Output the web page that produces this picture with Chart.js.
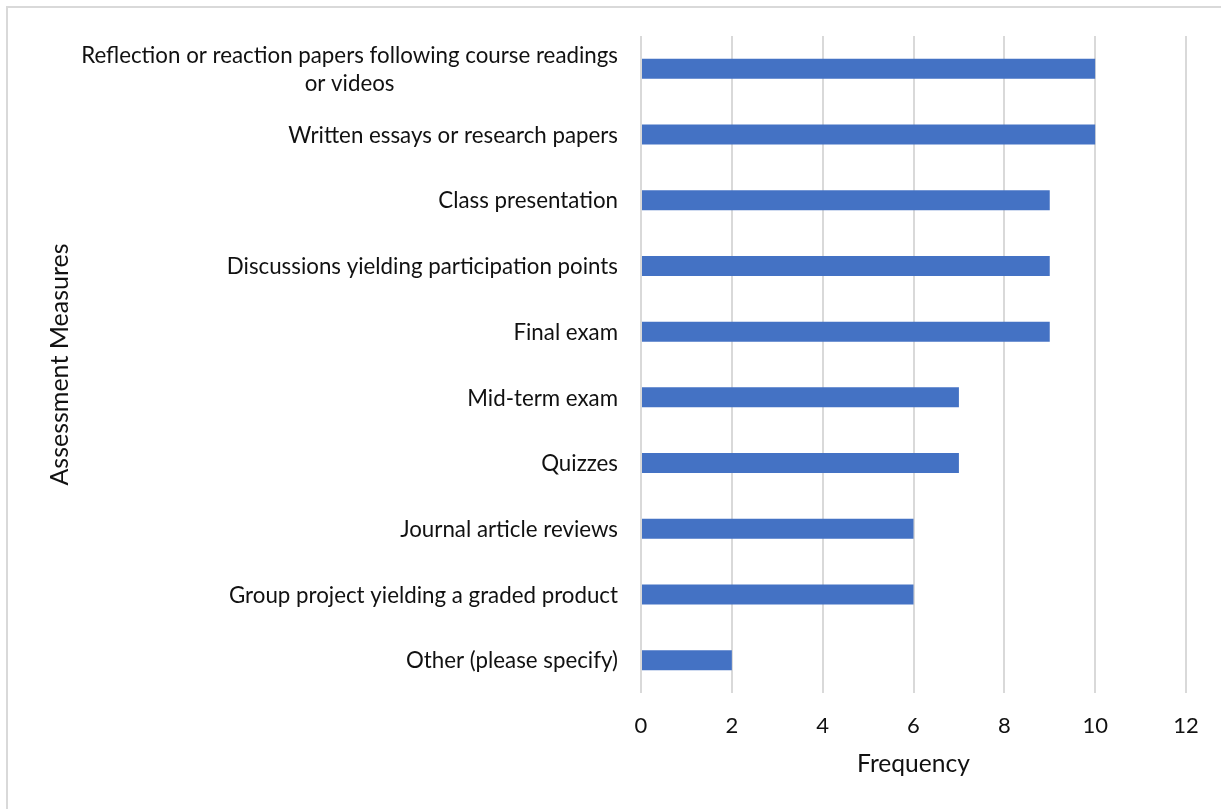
<!DOCTYPE html>
<html>
<head>
<meta charset="utf-8">
<script src="https://cdn.jsdelivr.net/npm/chart.js@4/dist/chart.umd.min.js"></script>
<style>
    html, body { margin: 0; padding: 0; background: #fff; overflow: hidden; }
    #wrap { position: relative; width: 1221px; height: 809px; }
    #frame {
        position: absolute; left: 6px; top: 6px; right: -10px; bottom: -10px;
        border-left: 2px solid #d9d9d9; border-top: 2px solid #d9d9d9;
        pointer-events: none;
    }
</style>
</head>
<body>
<div id="wrap">
    <canvas id="measures-chart" width="1221" height="809"></canvas>
    <div id="frame"></div>
</div>
<script>
// Assessment measures, top to bottom
const measures = [
    ['Reflection or reaction papers following course readings', 'or videos'],
    'Written essays or research papers',
    'Class presentation',
    'Discussions yielding participation points',
    'Final exam',
    'Mid-term exam',
    'Quizzes',
    'Journal article reviews',
    'Group project yielding a graded product',
    'Other (please specify)'
];
const frequency = [10, 10, 9, 9, 9, 7, 7, 6, 6, 2];
const freqTicks = [0, 2, 4, 6, 8, 10, 12];

const FONT = 'Lato';
const TEXT = '#111';

// Category labels: block right-aligned, lines centred inside the block
const categoryLabels = {
    id: 'categoryLabels',
    afterDraw(chart) {
        const ctx = chart.ctx;
        const y = chart.scales.y;
        const xRight = chart.chartArea.left - 23;
        const lineH = 28;
        ctx.save();
        ctx.font = '22.3px ' + FONT;
        ctx.fillStyle = TEXT;
        ctx.textAlign = 'center';
        ctx.textBaseline = 'middle';
        measures.forEach((label, i) => {
            const lines = Array.isArray(label) ? label : [label];
            const w = Math.max(...lines.map(l => ctx.measureText(l).width));
            const cy = y.getPixelForValue(i);
            const y0 = cy - (lines.length - 1) * lineH / 2 + 1;
            lines.forEach((l, k) => ctx.fillText(l, xRight - w / 2, y0 + k * lineH));
        });
        ctx.restore();
    }
};

new Chart(document.getElementById('measures-chart'), {
    type: 'bar',
    data: {
        labels: measures,
        datasets: [{
            data: frequency,
            backgroundColor: '#4472c4',
            borderWidth: 0,
            barPercentage: 0.305,
            categoryPercentage: 1
        }]
    },
    options: {
        indexAxis: 'y',
        responsive: false,
        animation: false,
        layout: { padding: { top: 36, right: 35, left: 0, bottom: 0 } },
        plugins: { legend: { display: false }, tooltip: { enabled: false } },
        scales: {
            x: {
                min: 0,
                max: 12,
                afterBuildTicks: s => { s.ticks = freqTicks.map(v => ({ value: v })); },
                afterFit: s => { s.height = 116; },
                grid: { color: '#d9d9d9', lineWidth: 2, drawTicks: false },
                border: { display: false },
                ticks: { color: TEXT, font: { family: FONT, size: 22 }, padding: 20 },
                title: {
                    display: true,
                    text: 'Frequency',
                    color: TEXT,
                    font: { family: FONT, size: 24.6 },
                    padding: { top: 0, bottom: 30 }
                }
            },
            y: {
                afterFit: s => { s.width = 641; },
                grid: { display: false },
                border: { display: false },
                ticks: { display: false },
                title: {
                    display: true,
                    text: 'Assessment Measures',
                    color: TEXT,
                    font: { family: FONT, size: 25 },
                    padding: 45
                }
            }
        }
    },
    plugins: [categoryLabels]
});
</script>
</body>
</html>
